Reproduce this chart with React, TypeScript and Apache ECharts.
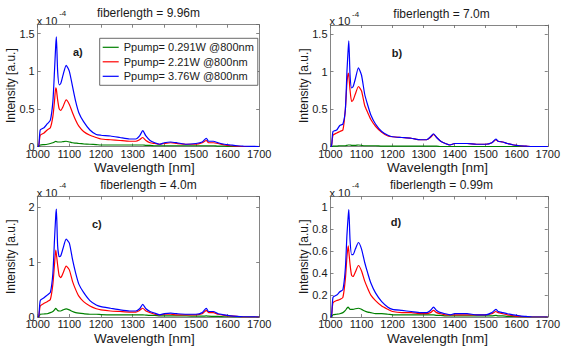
import React, { useEffect, useRef } from "react";
import * as echarts from "echarts";

// Wavelength sample points [nm]
const wavelengths = [1000, 1003, 1008, 1020, 1030, 1040, 1048, 1053, 1057, 1059, 1063, 1068, 1073, 1080, 1090, 1100, 1110, 1120, 1130, 1145, 1165, 1185, 1200, 1230, 1260, 1290, 1310, 1322, 1332, 1342, 1355, 1370, 1385, 1400, 1420, 1440, 1470, 1500, 1520, 1533, 1540, 1555, 1570, 1590, 1610, 1630, 1650, 1700];

const legendNames = ["Ppump= 0.291W @800nm", "Ppump= 2.21W @800nm", "Ppump= 3.76W @800nm"];
const lineColors = ["#008000", "#ff0000", "#0000ff"];

// Intensity values in units of 1e-4 a.u.
const aGreen = [0, 0, 0.02, 0.025, 0.03, 0.04, 0.05, 0.06, 0.07, 0.07, 0.06, 0.06, 0.06, 0.065, 0.07, 0.06, 0.05, 0.045, 0.04, 0.035, 0.03, 0.025, 0.02, 0.02, 0.02, 0.02, 0.02, 0.02, 0.02, 0.015, 0.015, 0.01, 0.01, 0.01, 0.01, 0.01, 0.01, 0.01, 0.01, 0.01, 0.01, 0.01, 0.005, 0.005, 0, 0, 0, 0];
const aRed = [0, 0, 0.15, 0.18, 0.22, 0.25, 0.4, 0.6, 0.78, 0.76, 0.62, 0.5, 0.48, 0.53, 0.62, 0.56, 0.45, 0.35, 0.27, 0.2, 0.15, 0.12, 0.1, 0.09, 0.08, 0.07, 0.07, 0.09, 0.12, 0.08, 0.05, 0.04, 0.03, 0.04, 0.05, 0.04, 0.03, 0.03, 0.05, 0.08, 0.05, 0.05, 0.04, 0.02, 0.01, 0.005, 0, 0];
const aBlue = [0, 0, 0.22, 0.25, 0.3, 0.35, 0.6, 1.0, 1.35, 1.46, 1.0, 0.82, 0.84, 0.95, 1.08, 1.0, 0.8, 0.6, 0.45, 0.33, 0.22, 0.16, 0.15, 0.14, 0.12, 0.1, 0.1, 0.14, 0.21, 0.14, 0.08, 0.05, 0.03, 0.05, 0.06, 0.05, 0.03, 0.04, 0.06, 0.11, 0.07, 0.07, 0.05, 0.03, 0.02, 0.01, 0.005, 0];

const bGreen = [0, 0, 0.005, 0.005, 0.01, 0.01, 0.01, 0.015, 0.02, 0.02, 0.02, 0.015, 0.015, 0.015, 0.02, 0.015, 0.01, 0.01, 0.01, 0.01, 0.005, 0.005, 0.005, 0.005, 0.005, 0.005, 0.005, 0.005, 0.005, 0.005, 0, 0, 0, 0, 0, 0, 0, 0, 0, 0, 0, 0, 0, 0, 0, 0, 0, 0];
const bRed = [0, 0, 0.15, 0.18, 0.2, 0.22, 0.5, 0.85, 0.98, 0.95, 0.75, 0.6, 0.62, 0.7, 0.8, 0.74, 0.55, 0.45, 0.36, 0.27, 0.19, 0.14, 0.13, 0.12, 0.11, 0.09, 0.09, 0.12, 0.16, 0.12, 0.07, 0.04, 0.02, 0.04, 0.04, 0.04, 0.03, 0.03, 0.05, 0.09, 0.07, 0.06, 0.04, 0.02, 0.01, 0.005, 0, 0];
const bBlue = [0, 0, 0.2, 0.22, 0.28, 0.3, 0.5, 1.0, 1.3, 1.41, 0.95, 0.78, 0.8, 0.9, 1.05, 0.95, 0.7, 0.55, 0.42, 0.3, 0.2, 0.15, 0.13, 0.12, 0.11, 0.09, 0.09, 0.13, 0.17, 0.12, 0.07, 0.04, 0.02, 0.04, 0.04, 0.04, 0.03, 0.03, 0.05, 0.1, 0.07, 0.06, 0.04, 0.02, 0.01, 0.005, 0, 0];

const cGreen = [0, 0, 0.05, 0.055, 0.06, 0.08, 0.1, 0.13, 0.16, 0.15, 0.12, 0.11, 0.11, 0.13, 0.15, 0.13, 0.1, 0.08, 0.07, 0.06, 0.05, 0.05, 0.045, 0.04, 0.04, 0.04, 0.04, 0.04, 0.04, 0.035, 0.03, 0.03, 0.02, 0.02, 0.02, 0.02, 0.02, 0.015, 0.015, 0.02, 0.015, 0.01, 0.01, 0.005, 0.005, 0, 0, 0];
const cRed = [0, 0, 0.2, 0.25, 0.28, 0.32, 0.6, 0.95, 1.22, 1.15, 0.95, 0.75, 0.72, 0.8, 0.93, 0.86, 0.65, 0.5, 0.38, 0.28, 0.2, 0.15, 0.13, 0.11, 0.1, 0.09, 0.09, 0.12, 0.16, 0.11, 0.08, 0.05, 0.04, 0.05, 0.05, 0.04, 0.04, 0.04, 0.06, 0.12, 0.08, 0.08, 0.05, 0.03, 0.02, 0.01, 0, 0];
const cBlue = [0, 0, 0.3, 0.35, 0.4, 0.45, 0.8, 1.4, 1.85, 1.97, 1.3, 1.1, 1.12, 1.25, 1.42, 1.35, 1.05, 0.8, 0.6, 0.45, 0.3, 0.22, 0.19, 0.16, 0.13, 0.11, 0.11, 0.15, 0.23, 0.15, 0.1, 0.07, 0.04, 0.06, 0.07, 0.06, 0.05, 0.05, 0.08, 0.16, 0.1, 0.1, 0.06, 0.04, 0.02, 0.01, 0.005, 0];

const dGreen = [0, 0, 0.02, 0.025, 0.03, 0.04, 0.06, 0.08, 0.09, 0.09, 0.07, 0.07, 0.07, 0.075, 0.08, 0.07, 0.055, 0.045, 0.04, 0.03, 0.03, 0.025, 0.02, 0.02, 0.02, 0.02, 0.02, 0.02, 0.02, 0.015, 0.015, 0.01, 0.01, 0.01, 0.01, 0.01, 0.01, 0.01, 0.01, 0.015, 0.01, 0.01, 0.005, 0.005, 0, 0, 0, 0];
const dRed = [0, 0, 0.13, 0.15, 0.16, 0.18, 0.35, 0.55, 0.65, 0.6, 0.48, 0.38, 0.37, 0.41, 0.47, 0.42, 0.33, 0.26, 0.2, 0.15, 0.1, 0.07, 0.05, 0.04, 0.04, 0.03, 0.03, 0.04, 0.06, 0.04, 0.03, 0.02, 0.02, 0.02, 0.02, 0.02, 0.02, 0.02, 0.03, 0.05, 0.04, 0.03, 0.02, 0.01, 0.005, 0, 0, 0];
const dBlue = [0, 0, 0.18, 0.2, 0.23, 0.25, 0.45, 0.75, 0.92, 0.98, 0.7, 0.57, 0.57, 0.62, 0.68, 0.62, 0.5, 0.4, 0.31, 0.22, 0.14, 0.09, 0.07, 0.06, 0.05, 0.04, 0.04, 0.06, 0.09, 0.06, 0.04, 0.03, 0.02, 0.03, 0.03, 0.03, 0.02, 0.02, 0.04, 0.07, 0.05, 0.04, 0.03, 0.02, 0.01, 0.005, 0, 0];

const panelSeries = [
  [aGreen, aRed, aBlue],
  [bGreen, bRed, bBlue],
  [cGreen, cRed, cBlue],
  [dGreen, dRed, dBlue],
];

const titles = ["fiberlength = 9.96m", "fiberlength = 7.0m", "fiberlength = 4.0m", "fiberlength = 0.99m"];
const panelTags = ["a)", "b)", "c)", "d)"];
const yMax = [1.62, 1.62, 2.2, 1.1];
const yStep = [0.5, 0.5, 1, 0.2];
const xMin = 1000;
const xMax = 1700;
const xStep = 100;

// Layout (pixels)
const grids = [
  { left: 37.7, top: 24.7, width: 221.5, height: 121.8 },
  { left: 330.5, top: 25, width: 222, height: 121.5 },
  { left: 37.7, top: 196.5, width: 221.5, height: 120.5 },
  { left: 330.5, top: 196.5, width: 222, height: 120.5 },
];
const tagPos = [
  [73, 51.7],
  [391.7, 53],
  [92, 224],
  [390.7, 221.7],
];

const FONT = "Liberation Sans, Arial, Helvetica, sans-serif";
const TXT = "#1a1a1a";
const AX = "#666";

export default function App() {
  const ref = useRef<HTMLDivElement>(null);
  useEffect(() => {
    if (!ref.current) return;
    const chart = echarts.init(ref.current, undefined, { renderer: "svg" });

    const xAxes: any[] = [];
    const yAxes: any[] = [];
    const series: any[] = [];
    const graphic: any[] = [];

    grids.forEach((g, i) => {
      const tick = { show: true, inside: true, length: 3, lineStyle: { color: AX, width: 0.8 } };
      const line = { show: true, onZero: false, lineStyle: { color: AX, width: 0.8 } };
      xAxes.push({
        type: "value", gridIndex: i, position: "bottom", min: xMin, max: xMax, interval: xStep,
        axisLine: line, axisTick: tick, splitLine: { show: false },
        axisLabel: {
          show: true, margin: 3, color: TXT, fontSize: 11, fontFamily: FONT, lineHeight: 8,
          formatter: (v: number) => String(v),
        },
      });
      xAxes.push({
        type: "value", gridIndex: i, position: "top", min: xMin, max: xMax, interval: xStep,
        axisLine: line, axisTick: tick, splitLine: { show: false }, axisLabel: { show: false },
      });
      const step = yStep[i];
      yAxes.push({
        type: "value", gridIndex: i, position: "left", min: 0, max: yMax[i], interval: step,
        axisLine: line, axisTick: tick, splitLine: { show: false },
        axisLabel: {
          show: true, margin: 3, color: TXT, fontSize: 11, fontFamily: FONT, lineHeight: 8,
          formatter: (v: number) => {
            const k = v / step;
            return Math.abs(k - Math.round(k)) < 1e-6 ? String(Math.round(v * 100) / 100) : "";
          },
        },
      });
      yAxes.push({
        type: "value", gridIndex: i, position: "right", min: 0, max: yMax[i], interval: step,
        axisLine: line, axisTick: tick, splitLine: { show: false }, axisLabel: { show: false },
      });

      panelSeries[i].forEach((vals, s) => {
        series.push({
          type: "line", name: legendNames[s], xAxisIndex: i * 2, yAxisIndex: i * 2,
          data: wavelengths.map((w, k) => [w, vals[k]]),
          showSymbol: false, symbol: "none", smooth: 0.2,
          lineStyle: { color: lineColors[s], width: 1.2 }, itemStyle: { color: lineColors[s] },
          z: 2 + s,
        });
      });

      const cx = g.left + g.width / 2;
      graphic.push({
        type: "text", x: cx, y: g.top - 11.5,
        style: { text: titles[i], font: `12px ${FONT}`, fill: TXT, align: "center", verticalAlign: "middle", lineHeight: 12 },
      });
      graphic.push({
        type: "text", x: cx - 4, y: g.top + g.height + 21,
        style: { text: "Wavelength [nm]", font: `13.5px ${FONT}`, fill: TXT, align: "center", verticalAlign: "middle", lineHeight: 12 },
      });
      graphic.push({
        type: "text", x: g.left - 26.5, y: g.top + g.height / 2, rotation: Math.PI / 2,
        style: { text: "Intensity [a.u.]", font: `12px ${FONT}`, fill: TXT, align: "center", verticalAlign: "middle" },
      });
      graphic.push({
        type: "text", x: g.left - 1, y: g.top - 4,
        style: { text: "x 10", font: `11px ${FONT}`, fill: TXT, align: "left", verticalAlign: "middle", lineHeight: 9 },
      });
      graphic.push({
        type: "text", x: g.left + 21.5, y: g.top - 11,
        style: { text: "-4", font: `8px ${FONT}`, fill: TXT, align: "left", verticalAlign: "middle", lineHeight: 6 },
      });
      graphic.push({
        type: "text", x: tagPos[i][0], y: tagPos[i][1],
        style: { text: panelTags[i], font: `bold 11px ${FONT}`, fill: TXT, align: "left", verticalAlign: "middle" },
      });
    });

    chart.setOption({
      animation: false,
      backgroundColor: "#ffffff",
      grid: grids.map((g) => ({ ...g, containLabel: false })),
      xAxis: xAxes,
      yAxis: yAxes,
      series,
      graphic,
      legend: {
        show: true, orient: "vertical", left: 99.7, top: 38.3,
        data: legendNames, icon: "rect", itemWidth: 16, itemHeight: 1.2, itemGap: 2.5,
        padding: [3, 4, 3, 3],
        borderColor: "#444", borderWidth: 0.8, backgroundColor: "#fff",
        textStyle: { fontSize: 11, fontFamily: FONT, color: TXT, lineHeight: 12 },
        selectedMode: false,
      },
    });
    return () => chart.dispose();
  }, []);
  return <div ref={ref} style={{ position: "fixed", left: 0, top: 0, width: 563, height: 347, background: "#fff" }} />;
}
